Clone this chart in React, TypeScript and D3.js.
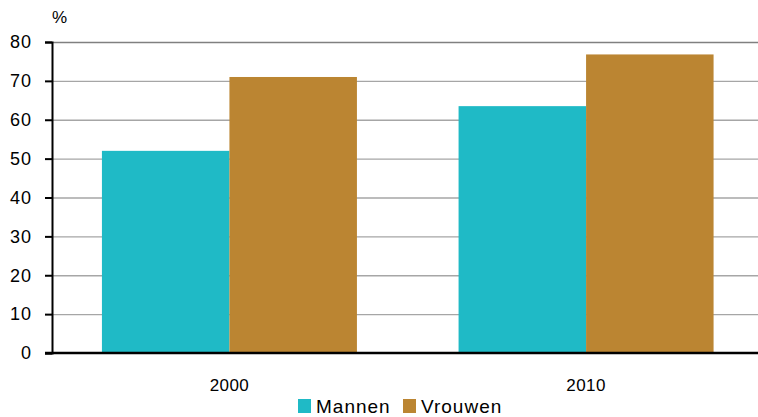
import { useRef, useEffect } from 'react';
import * as d3 from 'd3';

const years = ['2000', '2010'];
const seriesNames = ['Mannen', 'Vrouwen'];
const mannen = [52, 63.5];
const vrouwen = [71, 76.8];
const yTicks = [0, 10, 20, 30, 40, 50, 60, 70, 80];
const colors = ['#1fbac6', '#bb8532'];

export default function App() {
  const svgRef = useRef<SVGSVGElement>(null);

  useEffect(() => {
    if (!svgRef.current) return;
    const svg = d3.select(svgRef.current);
    svg.selectAll('*').remove();

    const W = 758, H = 417;
    const margin = { top: 42, right: 0, bottom: 64, left: 52 };
    const font = '"Liberation Sans", Arial, sans-serif';

    const x0 = d3.scaleBand().domain(years).range([margin.left, 763.5]).paddingInner(0.285).paddingOuter(0.14);
    const x1 = d3.scaleBand().domain(seriesNames).range([0, x0.bandwidth()]);
    const y = d3.scaleLinear().domain([0, 80]).range([H - margin.bottom, margin.top]);

    // gridlines
    svg.append('g').selectAll('line').data(yTicks.filter((t) => t > 0)).join('line')
      .attr('x1', margin.left).attr('x2', W)
      .attr('y1', (d) => y(d) + 0.5).attr('y2', (d) => y(d) + 0.5)
      .attr('stroke', (d) => (d === 80 ? '#808080' : '#a6a6a6'))
      .attr('stroke-width', 1.3);

    const rows = years.map((yr, i) => ({ yr, vals: [mannen[i], vrouwen[i]] }));
    const groups = svg.append('g').selectAll('g').data(rows).join('g')
      .attr('transform', (d) => `translate(${x0(d.yr)},0)`);
    groups.selectAll('rect').data((d) => d.vals.map((v, j) => ({ v, s: seriesNames[j], j }))).join('rect')
      .attr('x', (d) => x1(d.s) ?? 0)
      .attr('width', x1.bandwidth())
      .attr('y', (d) => y(d.v))
      .attr('height', (d) => y(0) - y(d.v))
      .attr('fill', (d) => colors[d.j]);

    // y axis
    const yAxis = svg.append('g').attr('transform', `translate(${margin.left},0)`)
      .call(d3.axisLeft(y).tickValues(yTicks).tickSize(7).tickPadding(13).tickFormat(d3.format('d')));
    yAxis.select('.domain').attr('stroke', '#000').attr('stroke-width', 2);
    yAxis.selectAll('.tick line').attr('stroke', '#000').attr('stroke-width', 2);
    yAxis.selectAll('text').attr('font-family', font).attr('font-size', 18)
      .attr('letter-spacing', 1).attr('fill', '#000');

    // x axis baseline
    svg.append('line')
      .attr('x1', margin.left - 7).attr('x2', W)
      .attr('y1', y(0)).attr('y2', y(0))
      .attr('stroke', '#000').attr('stroke-width', 2.5);

    svg.append('g').selectAll('text').data(years).join('text')
      .attr('x', (d) => (x0(d) ?? 0) + x0.bandwidth() / 2)
      .attr('y', 391)
      .attr('text-anchor', 'middle')
      .attr('font-family', font).attr('font-size', 17).attr('letter-spacing', 0.4)
      .text((d) => d);

    svg.append('text').attr('x', 52).attr('y', 23)
      .attr('font-family', font).attr('font-size', 17).text('%');

    // legend
    const legend = svg.append('g');
    const legendX = [298, 403];
    seriesNames.forEach((s, i) => {
      legend.append('rect').attr('x', legendX[i]).attr('y', 399).attr('width', 13).attr('height', 14).attr('fill', colors[i]);
      legend.append('text').attr('x', legendX[i] + 18).attr('y', 413)
        .attr('font-family', font).attr('font-size', 19).attr('letter-spacing', 1).text(s);
    });
  }, []);

  return (
    <>
      <style>{'body{margin:0}'}</style>
      <svg ref={svgRef} width={758} height={417} style={{ display: 'block', background: '#fff' }} />
    </>
  );
}
